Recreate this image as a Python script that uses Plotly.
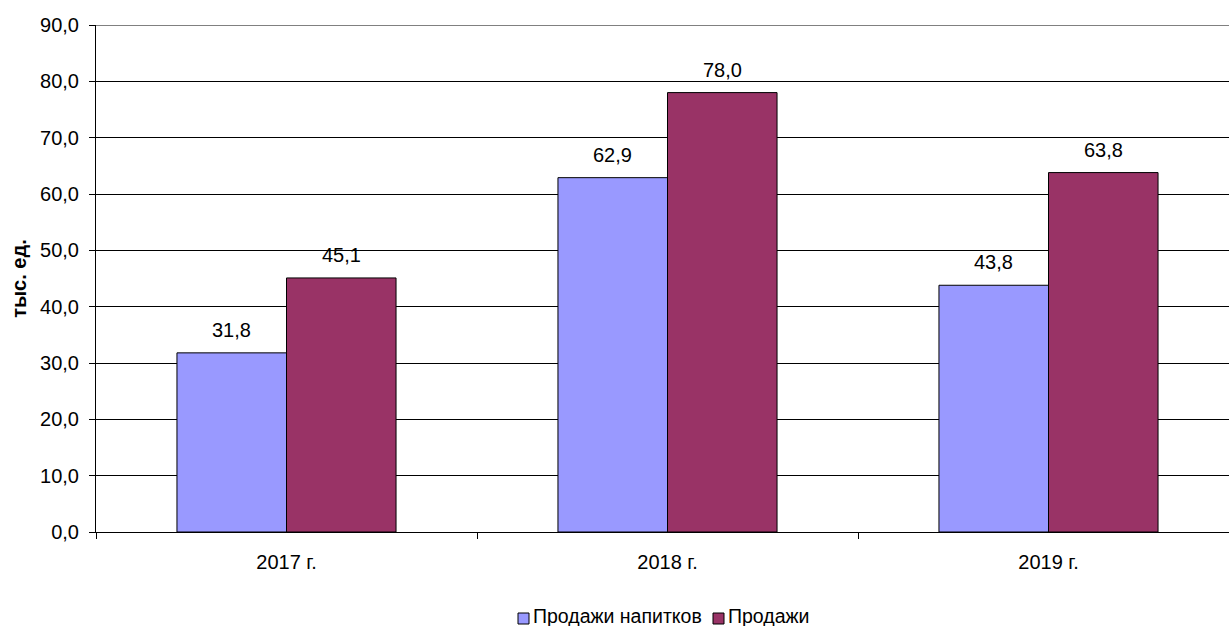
import plotly.graph_objects as go

# Sales volume by year, thousand units
years = ["2017 г.", "2018 г.", "2019 г."]
drinks_sales = [31.8, 62.9, 43.8]
total_sales = [45.1, 78.0, 63.8]
series_names = ["Продажи напитков", "Продажи"]
series_colors = ["#9999FF", "#993366"]
y_ticks = [0, 10, 20, 30, 40, 50, 60, 70, 80, 90]

FONT = "Liberation Sans, Arial, sans-serif"
W, H = 1229, 626
L, R, T, B = 96, 0, 25, 94
PW, PH = W - L - R, H - T - B


def px_x(p):
    return (p - L) / PW


def px_y(p):
    return (H - B - p) / PH


fig = go.Figure()
for name, vals, col in zip(series_names, [drinks_sales, total_sales], series_colors):
    fig.add_trace(go.Bar(
        x=years, y=vals, name=name,
        marker=dict(color=col, line=dict(color="#000000", width=1)),
    ))

# value labels above each bar
for i, series in enumerate([drinks_sales, total_sales]):
    for j, v in enumerate(series):
        fig.add_annotation(
            x=years[j], y=v, text=f"{v:.1f}".replace(".", ","),
            xref="x", yref="y", showarrow=False,
            xshift=(-1 if i == 0 else 1) * 55,
            yanchor="middle", yshift=23,
            font=dict(family=FONT, size=20, color="#000000"),
        )

# grey top border of the plot area
fig.add_shape(type="line", xref="paper", yref="y", x0=0, x1=1, y0=90, y1=90,
              line=dict(color="#808080", width=2))

# legend: small bordered squares followed by series names
legend_items = [(518, 531), (713, 726)]
for (sq_x, tx_x), name, col in zip(legend_items, series_names, series_colors):
    fig.add_shape(type="rect", xref="paper", yref="paper",
                  x0=px_x(sq_x), x1=px_x(sq_x + 11),
                  y0=px_y(624), y1=px_y(613),
                  fillcolor=col, line=dict(color="#000000", width=1))
    fig.add_annotation(x=px_x(tx_x), y=px_y(616), xref="paper", yref="paper",
                       text=name, showarrow=False, xanchor="left", yanchor="middle",
                       font=dict(family=FONT, size=19.5, color="#000000"))

fig.update_layout(
    width=W, height=H,
    margin=dict(l=L, r=R, t=T, b=B, autoexpand=False),
    paper_bgcolor="white", plot_bgcolor="white",
    barmode="group", bargap=0.425, bargroupgap=0,
    separators=", ",
    font=dict(family=FONT, size=20, color="#000000"),
    showlegend=False,
    xaxis=dict(
        range=[-0.5, -0.5 + 1133 / 381],
        showline=True, linecolor="#000000", linewidth=1,
        ticks="outside", tickson="boundaries", ticklen=6, tickcolor="#000000",
        ticklabelstandoff=12, showgrid=False, automargin=False,
        tickfont=dict(family=FONT, size=20),
    ),
    yaxis=dict(
        range=[0, 90], tickvals=y_ticks, tickformat=".1f",
        showline=True, linecolor="#000000", linewidth=1,
        ticks="outside", ticklen=6, tickcolor="#000000",
        ticklabelstandoff=6,
        showgrid=True, gridcolor="#000000", gridwidth=1,
        zeroline=False, automargin=False,
        tickfont=dict(family=FONT, size=20),
        title=dict(text="<b>тыс. ед.</b>", font=dict(family=FONT, size=20), standoff=8),
    ),
)

fig.write_html("out.html")
